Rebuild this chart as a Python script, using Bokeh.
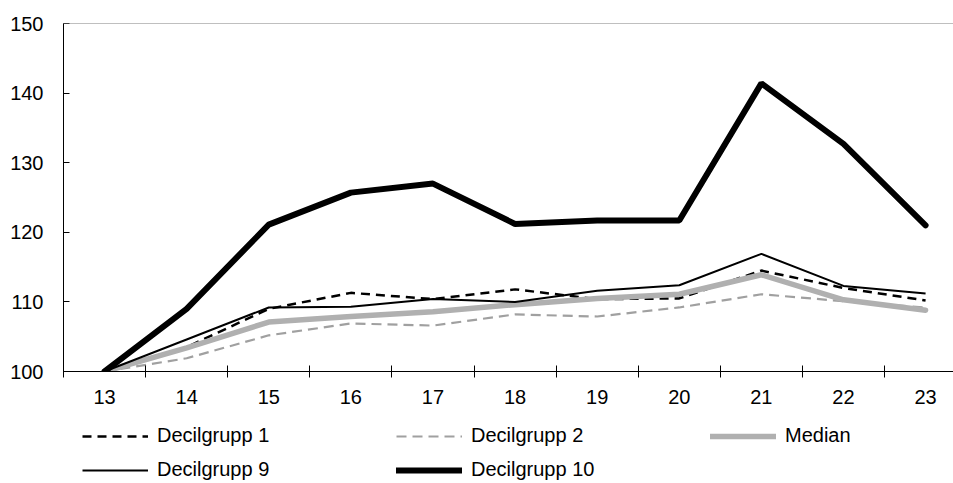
from bokeh.plotting import figure
from bokeh.layouts import column
from bokeh.models import Range1d, FixedTicker, Legend, LegendItem, Span
from bokeh.embed import file_html
from bokeh.resources import INLINE

# ---- data ----
years = [13, 14, 15, 16, 17, 18, 19, 20, 21, 22, 23]
year_labels = ["13", "14", "15", "16", "17", "18", "19", "20", "21", "22", "23"]
y_ticks = [100, 110, 120, 130, 140, 150]

decil1 = [100, 103.5, 109.0, 111.3, 110.4, 111.8, 110.4, 110.5, 114.5, 112.0, 110.2]
decil2 = [100, 101.9, 105.2, 106.9, 106.6, 108.2, 107.9, 109.2, 111.1, 110.1, 109.2]
median = [100, 103.4, 107.1, 107.9, 108.6, 109.6, 110.5, 111.1, 113.9, 110.3, 108.8]
decil9 = [100, 104.6, 109.2, 109.3, 110.4, 110.0, 111.6, 112.4, 116.9, 112.3, 111.2]
decil10 = [100, 109.0, 121.1, 125.7, 127.0, 121.2, 121.7, 121.7, 141.4, 132.7, 121.0]

names = ["Decilgrupp 1", "Decilgrupp 2", "Median", "Decilgrupp 9", "Decilgrupp 10"]

FONT = "Liberation Sans"
FS = "20px"

styles = [
    dict(line_color="black", line_width=2.5, line_dash="9 6"),
    dict(line_color="#a0a0a0", line_width=2.2, line_dash="10 6"),
    dict(line_color="#b0b0b0", line_width=5.5, line_cap="round"),
    dict(line_color="black", line_width=2),
    dict(line_color="black", line_width=6, line_cap="round"),
]
series = [decil1, decil2, median, decil9, decil10]

p = figure(width=953, height=410, output_backend="svg", toolbar_location=None,
           x_range=Range1d(12.5, 23.34), y_range=Range1d(100, 150),
           min_border_left=63, min_border_right=0, min_border_top=23,
           min_border_bottom=39)
p.outline_line_color = None
p.grid.visible = False
p.background_fill_color = "white"
p.border_fill_color = "white"

# x axis
xa = p.xaxis[0]
xa.ticker = FixedTicker(ticks=years, minor_ticks=[y - 0.5 for y in years])
xa.major_label_overrides = {y: l for y, l in zip(years, year_labels)}
xa.major_tick_in = 0
xa.major_tick_out = 0
xa.minor_tick_in = 6
xa.minor_tick_out = 6
xa.minor_tick_line_color = "black"
xa.axis_line_color = "black"
xa.major_label_standoff = 12
xa.major_label_text_font = FONT
xa.major_label_text_font_size = FS
xa.major_label_text_color = "black"

# y axis
ya = p.yaxis[0]
ya.ticker = FixedTicker(ticks=y_ticks)
ya.major_tick_in = 6
ya.major_tick_out = 0
ya.minor_tick_in = 0
ya.minor_tick_out = 0
ya.major_tick_line_color = "black"
ya.axis_line_color = "black"
ya.major_label_standoff = 20
ya.major_label_text_font = FONT
ya.major_label_text_font_size = FS
ya.major_label_text_color = "black"

p.add_layout(Span(location=150, dimension="width", line_color="#808080", line_width=1))

for s, st in zip(series, styles):
    p.line(years, s, **st)

# legend figure (below the chart); its lines lie outside its visible range
lf = figure(width=953, height=73, output_backend="svg", toolbar_location=None,
            x_range=Range1d(0, 1), y_range=Range1d(0, 1),
            x_axis_location=None, y_axis_location=None,
            min_border_left=0, min_border_right=0, min_border_top=0,
            min_border_bottom=0)
lf.outline_line_color = None
lf.grid.visible = False
lf.background_fill_color = "white"
lf.border_fill_color = "white"

rs = [lf.line(years, s, **st) for s, st in zip(series, styles)]
items = [LegendItem(label=n, renderers=[r]) for n, r in zip(names, rs)]
legend = Legend(items=items, location=(19, 2), orientation="horizontal", ncols=3,
                glyph_width=66, glyph_height=16, label_height=16, label_width=228,
                spacing=11, label_standoff=9, padding=5, margin=0,
                border_line_color=None, background_fill_alpha=0,
                label_text_font=FONT, label_text_font_size=FS,
                label_text_color="black")
lf.add_layout(legend, "center")

layout = column(p, lf, spacing=0)
open("out.html", "w").write(file_html(layout, INLINE))
